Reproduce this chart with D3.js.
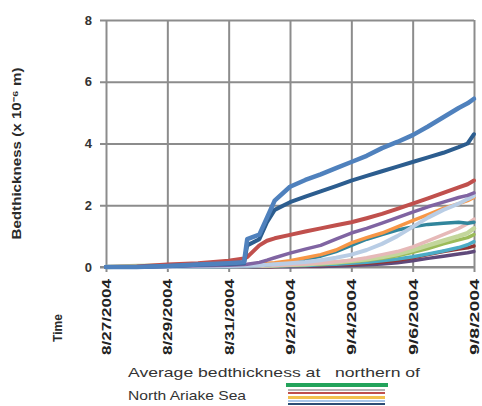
<!DOCTYPE html>
<html>
<head>
<meta charset="utf-8">
<script src="https://cdn.jsdelivr.net/npm/d3@7"></script>
<style>
  html, body { margin: 0; padding: 0; background: #fff; }
  svg { display: block; font-family: "Liberation Sans", Arial, sans-serif; }
  svg text { white-space: pre; }
</style>
</head>
<body>
<svg id="chart" width="482" height="406"></svg>
<script>
// Sample times of the model output
const sampleTimes = [
  "2004-08-27T00:00", "2004-08-28T00:00", "2004-08-29T00:00", "2004-08-30T00:00",
  "2004-08-31T00:00", "2004-08-31T12:00", "2004-08-31T14:30", "2004-09-01T00:00",
  "2004-09-01T06:00", "2004-09-01T12:00", "2004-09-02T00:00", "2004-09-02T12:00",
  "2004-09-03T00:00", "2004-09-03T12:00", "2004-09-04T00:00", "2004-09-04T12:00",
  "2004-09-05T00:00", "2004-09-05T12:00", "2004-09-06T00:00", "2004-09-06T12:00",
  "2004-09-07T00:00", "2004-09-07T12:00", "2004-09-07T19:00", "2004-09-08T00:00"
];

// Bed thickness (x 10^-6 m) at each station
const stationA = [0,0,0.03,0.08,0.12,0.15,0.9,1.05,1.6,2.15,2.6,2.82,3.0,3.2,3.4,3.6,3.85,4.05,4.27,4.55,4.85,5.15,5.3,5.45];
const stationB = [0,0,0.03,0.07,0.1,0.12,0.7,0.9,1.45,1.85,2.1,2.28,2.45,2.62,2.8,2.95,3.1,3.25,3.4,3.55,3.7,3.88,4.0,4.3];
const stationC = [0,0.02,0.08,0.12,0.2,0.28,0.32,0.7,0.85,0.93,1.04,1.15,1.25,1.35,1.45,1.58,1.72,1.88,2.05,2.22,2.4,2.58,2.68,2.8];
const stationD = [0,0,0.02,0.04,0.06,0.08,0.09,0.15,0.22,0.3,0.45,0.58,0.7,0.9,1.1,1.25,1.42,1.6,1.78,1.95,2.1,2.25,2.32,2.4];
const stationE = [0,0,0,0.02,0.03,0.04,0.04,0.06,0.07,0.09,0.12,0.16,0.22,0.3,0.4,0.55,0.75,1.0,1.3,1.6,1.85,2.05,2.2,2.3];
const stationF = [0,0,0.02,0.04,0.05,0.06,0.07,0.1,0.12,0.14,0.2,0.3,0.4,0.55,0.78,0.95,1.1,1.3,1.5,1.7,1.9,2.05,2.15,2.25];
const stationG = [0,0,0,0.01,0.02,0.03,0.03,0.05,0.07,0.1,0.15,0.25,0.35,0.5,0.7,0.9,1.05,1.2,1.3,1.38,1.42,1.45,1.42,1.45];
const stationH = [0,0,0,0,0.01,0.02,0.02,0.03,0.04,0.05,0.07,0.1,0.13,0.17,0.22,0.3,0.4,0.5,0.65,0.85,1.05,1.25,1.4,1.55];
const stationI = [0,0.03,0.05,0.05,0.05,0.05,0.05,0.05,0.05,0.06,0.07,0.09,0.12,0.15,0.2,0.25,0.32,0.42,0.55,0.7,0.85,1.0,1.1,1.25];
const stationJ = [0,0,0.01,0.02,0.03,0.03,0.03,0.04,0.04,0.05,0.06,0.08,0.1,0.13,0.17,0.22,0.28,0.36,0.48,0.6,0.75,0.88,0.95,1.05];
const stationK = [0,0,0,0,0,0.01,0.01,0.02,0.02,0.03,0.04,0.05,0.07,0.09,0.12,0.15,0.2,0.26,0.33,0.42,0.52,0.63,0.72,0.82];
const stationL = [0,0,0,0,0,0,0,0.01,0.01,0.02,0.03,0.04,0.05,0.07,0.09,0.12,0.16,0.22,0.3,0.4,0.5,0.58,0.62,0.68];
const stationM = [0,0,0,0,0,0,0,0,0,0.01,0.01,0.02,0.02,0.03,0.05,0.07,0.1,0.14,0.2,0.28,0.35,0.42,0.46,0.5];

const seriesNames = ["M","L","K","J","I","H","G","F","E","D","C","B","A"];
const seriesValues = [stationM, stationL, stationK, stationJ, stationI, stationH, stationG, stationF, stationE, stationD, stationC, stationB, stationA];
const seriesColors = ["#5f497a","#943634","#4bacc6","#9bbb59","#c3d69b","#e6b9b8","#31859c","#f79646","#b9cde5","#8064a2","#c0504d","#2c5d8f","#4f81bd"];
const seriesWidths = [3.5,3.5,3.5,3.5,4.5,3.5,3.5,3.5,4,3.5,4,4,4.5];

const yTicks = [0, 2, 4, 6, 8];
const xTickDates = ["2004-08-27","2004-08-29","2004-08-31","2004-09-02","2004-09-04","2004-09-06","2004-09-08"];

const legendLines = ["Average bedthickness at   northern of", "North Ariake Sea"];
const legendSwatchColors = ["#23a35b", "#9a9a9a", "#c0504d", "#f2c14e", "#8db3e2", "#2c4d75"];

const parseT = d3.timeParse("%Y-%m-%dT%H:%M");
const parseD = d3.timeParse("%Y-%m-%d");
const times = sampleTimes.map(parseT);

const svg = d3.select("#chart");
const m = { left: 106, right: 474, top: 20, bottom: 267 };

const x = d3.scaleTime()
  .domain([parseD("2004-08-27"), parseD("2004-09-08")])
  .range([m.left, m.right]);
const y = d3.scaleLinear().domain([0, 8]).range([m.bottom, m.top]);

const gridColor = "#8c8c8c";

// horizontal grid with short outward ticks
svg.append("g")
  .attr("transform", `translate(${m.left},0)`)
  .call(d3.axisLeft(y).tickValues(yTicks).tickSize(-(m.right - m.left)).tickSizeOuter(0).tickPadding(14))
  .call(g => g.select(".domain").remove())
  .call(g => g.selectAll(".tick line").attr("x1", -6).attr("stroke", gridColor).attr("stroke-width", 2))
  .call(g => g.selectAll(".tick text").attr("font-size", 13).attr("font-weight", "bold").attr("fill", "#333"));

// vertical grid with date labels
svg.append("g")
  .attr("transform", `translate(0,${m.bottom})`)
  .call(d3.axisBottom(x).tickValues(xTickDates.map(parseD)).tickSize(-(m.bottom - m.top)).tickSizeOuter(0)
    .tickFormat(d3.timeFormat("%-m/%-d/%Y")))
  .call(g => g.select(".domain").remove())
  .call(g => g.selectAll(".tick line").attr("y1", 5).attr("stroke", gridColor).attr("stroke-width", 2))
  .call(g => g.selectAll(".tick text")
    .attr("transform", "rotate(-90)")
    .attr("x", -12).attr("y", 0).attr("dy", "0.35em")
    .attr("text-anchor", "end")
    .attr("font-size", 13).attr("font-weight", "bold").attr("fill", "#222")
    .attr("textLength", 76).attr("lengthAdjust", "spacingAndGlyphs"));

// bottom axis line
svg.append("line")
  .attr("x1", m.left - 6).attr("x2", m.right)
  .attr("y1", m.bottom).attr("y2", m.bottom)
  .attr("stroke", gridColor).attr("stroke-width", 2);

// station curves
const line = d3.line()
  .x((d, i) => x(times[i]))
  .y(d => y(d));

svg.append("g").selectAll("path")
  .data(seriesValues)
  .join("path")
  .attr("d", line)
  .attr("fill", "none")
  .attr("stroke", (d, i) => seriesColors[i])
  .attr("stroke-width", (d, i) => seriesWidths[i])
  .attr("stroke-linejoin", "round")
  .attr("stroke-linecap", "round");

// axis titles
svg.append("text")
  .attr("transform", `translate(21,${(m.top + m.bottom) / 2 + 10}) rotate(-90)`)
  .attr("text-anchor", "middle")
  .attr("font-size", 12).attr("font-weight", "bold").attr("fill", "#2a2a2a")
  .attr("textLength", 172).attr("lengthAdjust", "spacingAndGlyphs")
  .text("Bedthickness (x 10⁻⁶ m)");

svg.append("text")
  .attr("transform", "translate(62,328) rotate(-90)")
  .attr("text-anchor", "middle")
  .attr("font-size", 12).attr("font-weight", "bold").attr("fill", "#2a2a2a")
  .text("Time");

// legend
const leg = svg.append("g");
leg.selectAll("text")
  .data(legendLines)
  .join("text")
  .attr("x", 128)
  .attr("y", (d, i) => 377 + i * 23)
  .attr("font-size", 13).attr("fill", "#333")
  .attr("textLength", (d, i) => i === 0 ? 292 : 118)
  .attr("lengthAdjust", "spacingAndGlyphs")
  .text(d => d);

const swatchY = [385, 390, 393, 397.5, 401, 404];
const swatchW = [4, 1.5, 2, 3, 1.5, 2];
leg.selectAll("line")
  .data(legendSwatchColors)
  .join("line")
  .attr("x1", (d, i) => i === 0 ? 286 : 288)
  .attr("x2", (d, i) => i === 0 ? 388 : 385)
  .attr("y1", (d, i) => swatchY[i])
  .attr("y2", (d, i) => swatchY[i])
  .attr("stroke", d => d)
  .attr("stroke-width", (d, i) => swatchW[i]);
</script>
</body>
</html>
